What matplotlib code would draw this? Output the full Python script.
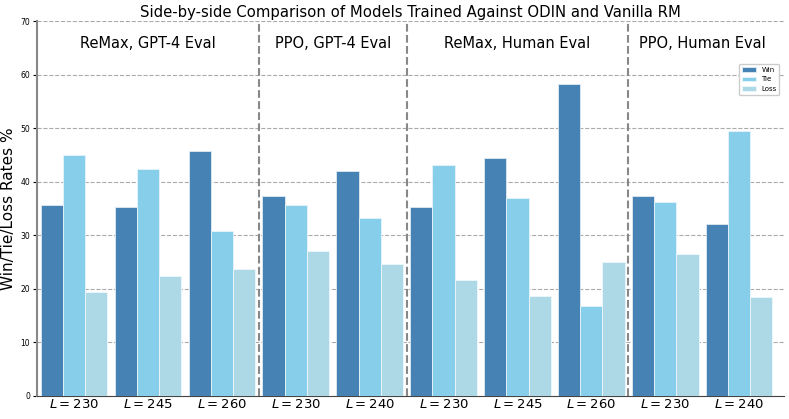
import matplotlib
matplotlib.use("Agg")
import matplotlib.pyplot as plt
import numpy as np

sections = ["ReMax, GPT-4 Eval", "PPO, GPT-4 Eval", "ReMax, Human Eval", "PPO, Human Eval"]
tick_labels = ["$L = 230$", "$L = 245$", "$L = 260$", "$L = 230$", "$L = 240$",
               "$L = 230$", "$L = 245$", "$L = 260$", "$L = 230$", "$L = 240$"]
win = [35.7, 35.3, 45.7, 37.3, 42.0, 35.2, 44.4, 58.3, 37.4, 32.0]
tie = [45.0, 42.3, 30.7, 35.6, 33.3, 43.2, 37.0, 16.7, 36.3, 49.4]
loss = [19.3, 22.3, 23.7, 27.1, 24.7, 21.6, 18.6, 25.0, 26.4, 18.5]
section_sizes = [3, 2, 3, 2]

fig = plt.figure(figsize=(7.89, 4.19), dpi=100)
ax = fig.add_axes([0.047, 0.056, 0.947, 0.893])
x = np.arange(len(win))
w = 0.3
ax.bar(x - w, win, w, color="#4682B4", edgecolor="#dfeaf3", linewidth=0.6, label="Win", zorder=3)
ax.bar(x, tie, w, color="#87CEEB", edgecolor="#e6f5fb", linewidth=0.6, label="Tie", zorder=3)
ax.bar(x + w, loss, w, color="#ADD8E6", edgecolor="#eef7fa", linewidth=0.6, label="Loss", zorder=3)

ax.set_xlim(-0.5, 9.61)
ax.set_ylim(0, 70)
ax.set_xticks(x)
ax.set_xticklabels(tick_labels, fontsize=9.5)
ax.tick_params(axis="x", length=0, pad=2)
ax.tick_params(axis="y", labelsize=5.5, length=3, pad=2)
ax.yaxis.grid(True, linestyle="--", color="#aaaaaa", linewidth=0.8, zorder=0)
ax.spines["top"].set_visible(False)
ax.spines["right"].set_visible(False)
ax.spines["left"].set_color("#888888")
ax.spines["left"].set_linewidth(1.5)
ax.spines["bottom"].set_color("#444444")

start = 0
bounds = []
for s in section_sizes:
    bounds.append((start - 0.5, start + s - 0.5))
    start += s
for i, (a, b) in enumerate(bounds):
    if i > 0:
        ax.axvline(a, color="#888888", linestyle="--", linewidth=1.5, zorder=4)
    ax.text((a + b) / 2, 65.8, sections[i], ha="center", va="center", fontsize=10.5)

ax.set_ylabel("Win/Tie/Loss Rates %", fontsize=11, labelpad=3)
ax.set_title("Side-by-side Comparison of Models Trained Against ODIN and Vanilla RM", fontsize=10.7, pad=3)
ax.legend(loc="upper right", bbox_to_anchor=(0.998, 0.895), fontsize=5, framealpha=1)
fig.savefig("out.png", dpi=100)
